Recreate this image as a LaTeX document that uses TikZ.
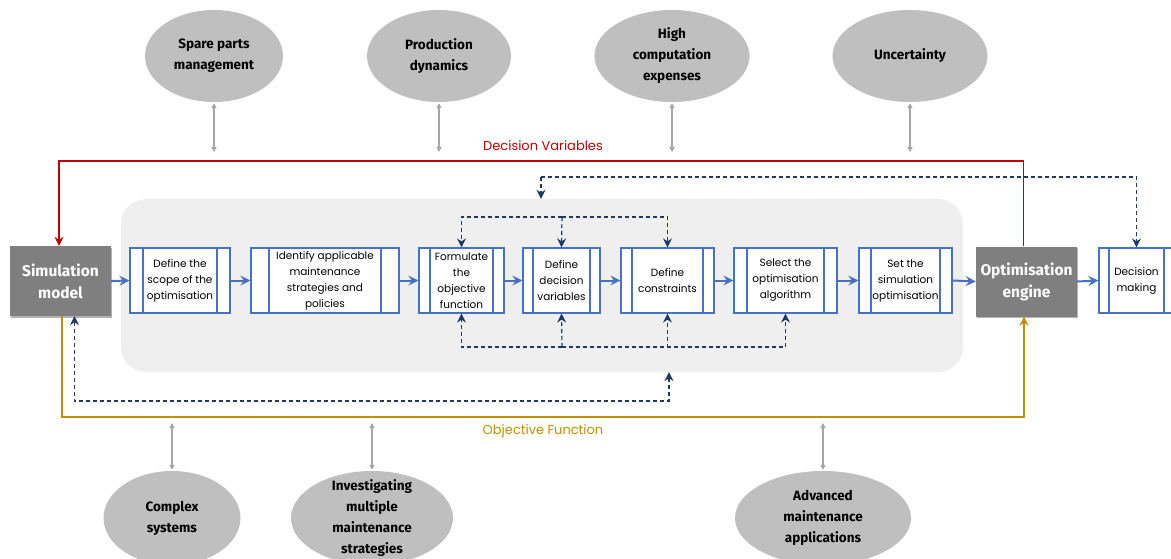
\documentclass[tikz,border=0pt]{standalone}
\usepackage{fontspec}
\setmainfont{Poppins}
\newfontfamily\headfont{Fira Sans}
\usepackage{xcolor}
\usepackage{tikz}
\usetikzlibrary{arrows.meta,shapes.geometric,shadows}
\definecolor{procblue}{HTML}{4472C4}
\definecolor{navy}{HTML}{203864}
\definecolor{dvred}{HTML}{C00000}
\definecolor{ofgold}{HTML}{BF9000}
\definecolor{boxgray}{HTML}{7F7F7F}
\definecolor{ellgray}{HTML}{BFBFBF}
\definecolor{stagebg}{HTML}{EFEFEF}
\definecolor{linkgray}{HTML}{A6A6A6}
\tikzset{
  stage/.style={fill=stagebg, rounded corners=25pt, minimum width=842pt, minimum height=173pt},
  proc/.style={
    draw=procblue, fill=white, line width=1.2pt,
    minimum height=65pt, inner sep=1pt, align=center,
    font=\fontsize{10.5}{16}\selectfont,
    path picture={
      \draw[procblue, line width=1.2pt]
        ([xshift=#1]path picture bounding box.north west) -- ([xshift=#1]path picture bounding box.south west)
        ([xshift=-#1]path picture bounding box.north east) -- ([xshift=-#1]path picture bounding box.south east);
    }
  },
  proc/.default=11pt,
  engine/.style={
    fill=boxgray, text=white, align=center,
    font=\headfont\bfseries\fontsize{15.5}{22}\selectfont,
    minimum width=101pt, minimum height=70pt,
    drop shadow={shadow xshift=1pt, shadow yshift=-1.5pt, opacity=0.3, fill=black}
  },
  issue/.style={
    ellipse, fill=ellgray, inner sep=0pt, align=center,
    font=\headfont\bfseries\fontsize{13.5}{21}\selectfont,
    minimum height=92pt
  },
  flow/.style={draw=procblue, line width=2pt, -{Stealth[length=10pt,width=10pt,inset=3.5pt]}},
  fb/.style={draw=navy, line width=1.2pt, dash pattern=on 4pt off 3pt, -{Stealth[length=9pt,width=9pt,inset=3pt]}},
  dv/.style={draw=dvred, line width=1.8pt, -{Stealth[length=9pt,width=9pt,inset=3pt]}},
  of/.style={draw=ofgold, line width=1.8pt, -{Stealth[length=9pt,width=9pt,inset=3pt]}},
  link/.style={draw=linkgray, line width=1.4pt, {Triangle[length=5pt,width=5pt]}-{Triangle[length=5pt,width=5pt]}},
  tag/.style={font=\fontsize{13}{15}\selectfont}
}

\begin{document}
\begin{tikzpicture}[x=1pt, y=-1pt]
  \useasboundingbox (0,0) rectangle (1171,559);
  \node[stage] (R) at (542,285.5) {};

  % main row
  \node[engine] (S) at (60.5,281) {Simulation\\model};
  \node[proc=13pt, minimum width=100pt] (P1) at (180,280.5) {Define the\\scope of the\\optimisation};
  \node[proc=18pt, minimum width=148pt] (P2) at (325,280.5) {Identify applicable\\maintenance\\strategies and\\policies};
  \node[proc, minimum width=85pt] (P3) at (461.5,280.5) {Formulate\\the\\objective\\function};
  \node[proc=10pt, minimum width=77pt] (P4) at (561.5,280.5) {Define\\decision\\variables};
  \node[proc, minimum width=93pt] (P5) at (667.5,280.5) {Define\\constraints};
  \node[proc=13pt, minimum width=103pt] (P6) at (785.5,280.5) {Select the\\optimisation\\algorithm};
  \node[proc=12pt, minimum width=93pt] (P7) at (905.5,280.5) {Set the\\simulation\\optimisation};
  \node[engine] (O) at (1026.5,281.5) {Optimisation\\engine};
  \node[proc=10pt, minimum width=75pt] (D) at (1136.5,280.5) {Decision\\making};

  \foreach \a/\b in {S/P1,P1/P2,P2/P3,P3/P4,P4/P5,P5/P6,P6/P7,P7/O,O/D}
    \draw[flow] (\a.east) -- (\b.west);

  % inner feedback
  \coordinate (T) at (562,217);
  \coordinate (B) at (562,347);
  \draw[fb] (T) -| (P3.north);
  \draw[fb] (T) -- (P4.north);
  \draw[fb] (T) -| (P5.north);
  \draw[fb] (B) -| (P3.south);
  \draw[fb] (B) -- (P4.south);
  \draw[fb] (B) -| (P5.south);
  \draw[fb] (B) -| (P6.south);

  % outer feedback
  \coordinate (F) at (541,177);
  \draw[fb] (F) -| (D.north);
  \draw[fb] (F) -- (F |- R.north);
  \coordinate (G) at (669,401);
  \draw[fb, {Stealth[length=9pt,width=9pt,inset=3pt]}-{Stealth[length=9pt,width=9pt,inset=3pt]}]
    ([xshift=14pt]S.south) |- (G) -- (G |- R.south);

  % decision variables / objective function
  \coordinate (V) at (543,161);
  \coordinate (W) at (543,417);
  \draw[dv] ([xshift=-3pt]O.north) |- (V) -| ([xshift=-1.5pt]S.north);
  \draw[of] ([xshift=1.5pt]S.south) |- (W) -| ([xshift=-2.5pt]O.south);
  \node[tag, text=dvred] (VL) at (543,146) {Decision Variables};
  \node[tag, text=ofgold] (WL) at (543,431) {Objective Function};

  % challenges
  \node[issue, minimum width=138pt] (E1) at (214,56) {Spare parts\\management};
  \node[issue, minimum width=144pt] (E2) at (439,56) {Production\\dynamics};
  \node[issue, minimum width=155pt] (E3) at (672,56) {High\\computation\\expenses};
  \node[issue, minimum width=155pt] (E4) at (910,56) {Uncertainty};
  \node[issue, minimum width=137pt, minimum height=94pt] (E5) at (172,518) {Complex\\systems};
  \node[issue, minimum width=162pt, minimum height=94pt, inner ysep=-10pt] (E6) at (372,518) {Investigating\\multiple\\maintenance\\strategies};
  \node[issue, minimum width=176pt, minimum height=94pt] (E7) at (823,518) {Advanced\\maintenance\\applications};

  \coordinate (TL) at (0,152);
  \coordinate (BL) at (0,423);
  \foreach \e in {E1,E2,E3,E4}
    \draw[link] ([yshift=-1pt]\e.south) -- (\e.south |- TL);
  \foreach \e in {E5,E6,E7}
    \draw[link] (\e.north |- BL) -- ([yshift=1pt]\e.north);
\end{tikzpicture}
\end{document}
